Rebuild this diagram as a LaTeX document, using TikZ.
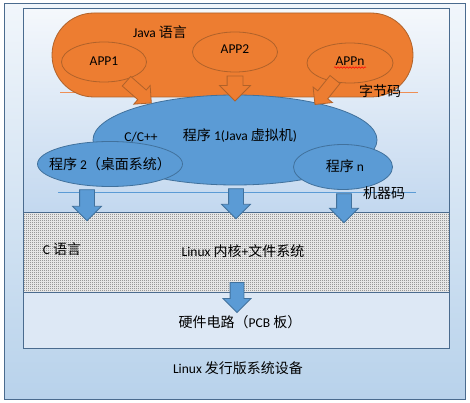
\documentclass[tikz,border=0pt]{standalone}
\usepackage{fontspec}
\setmainfont{Carlito}
\newfontfamily\cjkfont{Noto Sans CJK SC}
\usetikzlibrary{shapes.geometric,shapes.arrows,patterns.meta,decorations.pathmorphing}
\newcommand\zh[1]{{\cjkfont\fontsize{14}{16}\selectfont #1}}
\definecolor{orgfill}{HTML}{ED7D31}
\definecolor{orgline}{HTML}{B0622A}
\definecolor{bluefill}{HTML}{5B9BD5}
\definecolor{blueline}{HTML}{41719C}
\definecolor{framec}{HTML}{4A6B8E}
\definecolor{bgtop}{HTML}{F1F6FB}
\definecolor{bgbot}{HTML}{B8D2EB}
\definecolor{intop}{HTML}{F5F8FC}
\definecolor{inbot}{HTML}{C3D8EF}
\definecolor{hwfill}{HTML}{DDE8F5}
\definecolor{dotc}{HTML}{303030}
\definecolor{dotbg}{HTML}{E6E6E6}
\definecolor{orgsep}{HTML}{EE8F55}
\tikzdeclarepattern{
  name=finedots,
  type=uncolored,
  bounding box={(0pt,0pt) and (2pt,2pt)},
  tile size={(2pt,2pt)},
  code={\pgfpathrectangle{\pgfpointorigin}{\pgfpoint{1pt}{1pt}}\pgfusepath{fill}}
}
\tikzset{
  txt/.style={font=\fontsize{13.5}{16}\selectfont, inner sep=0pt, text=black},
  orgshape/.style={draw=orgline, fill=orgfill, line width=0.8pt},
  blueshape/.style={draw=blueline, fill=bluefill, line width=0.8pt},
  orgarrow/.style={single arrow, draw=orgline, fill=orgfill, line width=0.8pt,
    inner xsep=0pt, single arrow tip angle=90},
  bluearrow/.style={single arrow, draw=blueline, fill=bluefill, line width=0.8pt,
    inner xsep=0pt, inner ysep=7pt, single arrow tip angle=90, single arrow head extend=7pt},
  panel/.style={draw=framec, line width=0.9pt},
}
\begin{document}
\begin{tikzpicture}[x=1pt,y=-1pt]
\useasboundingbox (0,0) rectangle (470,403);
% outer frame
\shade[top color=bgtop, bottom color=bgbot] (4.5,3.5) rectangle (465.5,399.5);
\draw[panel] (4.5,3.5) rectangle (465.5,399.5);
% inner frame upper part
\shade[top color=intop, bottom color=inbot] (23.5,8.5) rectangle (449,212);
% dotted kernel panel
\fill[dotbg] (23.5,212) rectangle (449,292);
\fill[pattern={finedots}, pattern color=dotc] (23.5,212) rectangle (449,292);
% hardware panel
\fill[hwfill] (23.5,292) rectangle (449,348);
\draw[panel] (23.5,212) rectangle (449,292);
\draw[panel] (23.5,8.5) rectangle (449,348);

% separator lines
\coordinate (ol1) at (60,92);
\coordinate (ol2) at (418,92);
\coordinate (bl1) at (58,192);
\coordinate (bl2) at (416,192);
\draw[orgsep, line width=0.7pt] (ol1) -- (ol2);
\draw[bluefill, line width=0.7pt] (bl1) -- (bl2);

% Java language block
\node[orgshape, rectangle, rounded corners=42pt, minimum width=361pt, minimum height=84pt] (javabox) at (232.5,55) {};
\node[txt] (javatxt) at (160,32) {Java \zh{语言}};
\node[orgshape, ellipse, minimum width=85pt, minimum height=40pt, inner sep=0pt] (app1) at (104,62) {};
\node[txt] (app1t) at (104,61) {APP1};
\node[orgshape, ellipse, minimum width=85pt, minimum height=40pt, inner sep=0pt] (app2) at (235,52) {};
\node[txt] (app2t) at (235,49) {APP2};
\node[orgshape, ellipse, minimum width=86pt, minimum height=40pt, inner sep=0pt] (appn) at (350,63) {};
\node[txt] (appnt) at (350,61) {APPn};
\coordinate (w1) at (334,67.5);
\coordinate (w2) at (366,67.5);
\draw[red, line width=0.5pt, decorate, decoration={snake, segment length=3pt, amplitude=0.8pt}] (w1) -- (w2);

% JVM
\node[blueshape, ellipse, minimum width=284pt, minimum height=90pt] (jvm) at (235,140) {};
\node[txt] (jvmt) at (240,136) {\zh{程序} 1(Java \zh{虚拟机})};
\node[txt] (cpp) at (141,137) {C/C++};

% orange arrows
\node[orgarrow, minimum height=25pt, inner ysep=7.5pt, single arrow head extend=7.5pt, rotate=-90] (oa2) at (235,84.5) {};
\node[orgarrow, minimum height=33pt, inner ysep=6pt, single arrow head extend=6pt, rotate=-41.3] (oa1) at (136.5,90) {};
\node[orgarrow, minimum height=32pt, inner ysep=6pt, single arrow head extend=6pt, rotate=-128.7] (oan) at (327,89.5) {};

% bytecode label
\node[txt] (bytecode) at (380,91) {\zh{字节码}};

% programs
\node[blueshape, ellipse, minimum width=145pt, minimum height=45pt] (p2) at (110,164) {};
\node[txt] (p2t) at (110,164) {\zh{程序} 2\zh{（桌面系统）}};
\node[blueshape, ellipse, minimum width=99pt, minimum height=45pt] (pn) at (343,167) {};
\node[txt] (pnt) at (345,166) {\zh{程序} n};

% blue arrows
\node[bluearrow, minimum height=31pt, rotate=-90] (ba1) at (87,201.5) {};
\node[bluearrow, minimum height=30pt, rotate=-90] (ba2) at (236,200) {};
\node[bluearrow, minimum height=29pt, rotate=-90] (ba3) at (344,204.5) {};
\node[txt] (machine) at (384,193) {\zh{机器码}};

% kernel
\node[txt] (clang) at (62,249) {C \zh{语言}};
\node[txt] (kernel) at (243,251) {Linux \zh{内核}+\zh{文件系统}};
\node[bluearrow, minimum height=30pt, inner ysep=6.5pt, rotate=-90] (ba4) at (237,294) {};
\node[txt] (hw) at (240,322) {\zh{硬件电路（}PCB \zh{板）}};
\node[txt] (dist) at (238,368) {Linux \zh{发行版系统设备}};
\end{tikzpicture}
\end{document}
